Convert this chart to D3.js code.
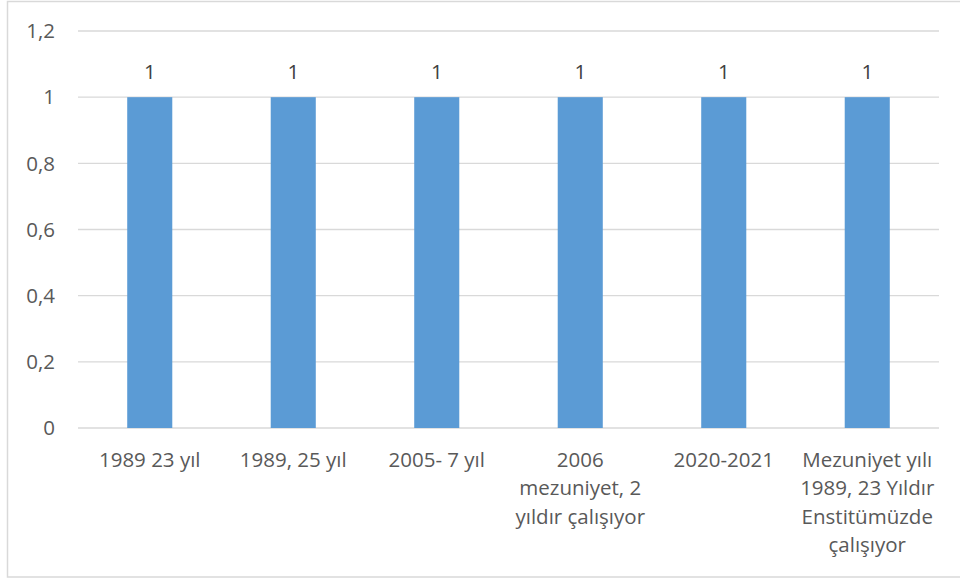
<!DOCTYPE html>
<html><head><meta charset="utf-8">
<script src="https://cdn.jsdelivr.net/npm/d3@7"></script>
<style>body{margin:0;background:#fff;} svg{display:block;}</style>
</head><body>
<svg id="c" width="960" height="579"></svg>
<script>
const categories = [
  ["1989 23 yıl"],
  ["1989, 25 yıl"],
  ["2005- 7 yıl"],
  ["2006", "mezuniyet, 2", "yıldır çalışıyor"],
  ["2020-2021"],
  ["Mezuniyet yılı", "1989, 23 Yıldır", "Enstitümüzde", "çalışıyor"]
];
const values = [1, 1, 1, 1, 1, 1];
const yTicks = [0, 0.2, 0.4, 0.6, 0.8, 1, 1.2];
const yTickLabels = ["0", "0,2", "0,4", "0,6", "0,8", "1", "1,2"];

const svg = d3.select("#c");
const font = "'Open Sans', 'Liberation Sans', sans-serif";
const txt = "#595959";
const fs = 20.5;

svg.append("rect").attr("x", 7.5).attr("y", 1.5).attr("width", 960).attr("height", 575.5)
  .attr("fill", "#fff").attr("stroke", "#d9d9d9").attr("stroke-width", 1.5);

const pL = 78, pR = 939, pT = 31, pB = 428;
const x = d3.scaleBand().domain(d3.range(categories.length)).range([pL, pR]).paddingInner(0.686).paddingOuter(0.343);
const y = d3.scaleLinear().domain([0, 1.2]).range([pB, pT]);

// gridlines
svg.append("g").selectAll("line").data(yTicks).join("line")
  .attr("x1", pL).attr("x2", pR)
  .attr("y1", d => y(d)).attr("y2", d => y(d))
  .attr("stroke", "#d9d9d9").attr("stroke-width", 1.3);

// y labels
svg.append("g").selectAll("text").data(yTicks).join("text")
  .attr("x", 55).attr("y", d => y(d)).attr("dy", "0.35em")
  .attr("text-anchor", "end").attr("font-family", font).attr("font-size", fs).attr("fill", txt)
  .text((d, i) => yTickLabels[i]);

// bars
svg.append("g").selectAll("rect").data(values).join("rect")
  .attr("x", (d, i) => x(i)).attr("width", x.bandwidth())
  .attr("y", d => y(d)).attr("height", d => y(0) - y(d))
  .attr("fill", "#5b9bd5");

// data labels
svg.append("g").selectAll("text").data(values).join("text")
  .attr("x", (d, i) => x(i) + x.bandwidth() / 2).attr("y", d => y(d) - 25).attr("dy", "0.35em")
  .attr("text-anchor", "middle").attr("font-family", font).attr("font-size", fs).attr("fill", "#404040")
  .text(d => d);

// category labels
const cg = svg.append("g").selectAll("text").data(categories).join("text")
  .attr("text-anchor", "middle").attr("font-family", font).attr("font-size", fs).attr("fill", txt);
cg.each(function(lines, i) {
  const t = d3.select(this);
  lines.forEach((l, j) => {
    t.append("tspan").attr("x", x(i) + x.bandwidth() / 2).attr("y", 460 + j * 28.3).attr("dy", "0.35em").text(l);
  });
});
</script>
</body></html>
